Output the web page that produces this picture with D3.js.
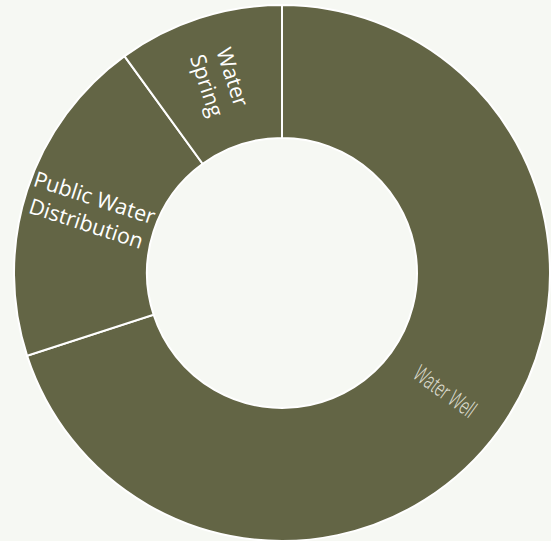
<!DOCTYPE html>
<html>
<head>
<meta charset="utf-8">
<script src="https://cdn.jsdelivr.net/npm/d3@7"></script>
<style>
  html, body { margin: 0; padding: 0; background: #f6f8f3; }
  svg { display: block; }
</style>
</head>
<body>
<svg id="chart" width="551" height="541"></svg>
<script>
// Water source shares
const categories = ["Water Well", "Public Water Distribution", "Water Spring"];
const values = [70, 20, 10];
const labelLines = [["Water Well"], ["Public Water", "Distribution"], ["Water", "Spring"]];

const width = 551, height = 541;
const cx = 282, cy = 273;
const outerR = 268, innerR = 135;

const svg = d3.select("#chart");
const g = svg.append("g").attr("transform", `translate(${cx},${cy})`);

const pie = d3.pie().sort(null).value(d => d.value);
const arc = d3.arc().innerRadius(innerR).outerRadius(outerR);

const data = categories.map((c, i) => ({ name: c, value: values[i], lines: labelLines[i] }));
const arcs = pie(data);

g.selectAll("path.slice")
  .data(arcs)
  .join("path")
  .attr("class", "slice")
  .attr("d", arc)
  .attr("fill", "#636545")
  .attr("stroke", "#ffffff")
  .attr("stroke-width", 2);

const labels = g.selectAll("g.label")
  .data(arcs)
  .join("g")
  .attr("class", "label")
  .attr("transform", d => {
    const [x, y] = arc.centroid(d);
    const mid = (d.startAngle + d.endAngle) / 2 * 180 / Math.PI;
    let rot = mid - 90;
    if (rot > 90) rot -= 180;
    return `translate(${x},${y}) rotate(${rot})`;
  });

labels.each(function(d, i) {
  const sel = d3.select(this);
  const small = i === 0;
  const fs = small ? 23 : 21.5;
  const lh = small ? fs * 1.2 : 27;
  const n = d.data.lines.length;
  const t = sel.append("text")
    .attr("text-anchor", "middle")
    .attr("font-family", small ? "'Liberation Sans Narrow', 'Roboto', sans-serif" : "'Open Sans', sans-serif")
    .attr("font-size", fs)
    .attr("font-weight", small ? 300 : 400)
    .attr("fill", small ? "#dcdccf" : "#ffffff");
  if (small) t.attr("transform", "scale(0.66,1)");
  d.data.lines.forEach((line, k) => {
    t.append("tspan")
      .attr("x", 0)
      .attr("y", (k - (n - 1) / 2) * lh)
      .attr("dy", "0.35em")
      .text(line);
  });
});
</script>
</body>
</html>
